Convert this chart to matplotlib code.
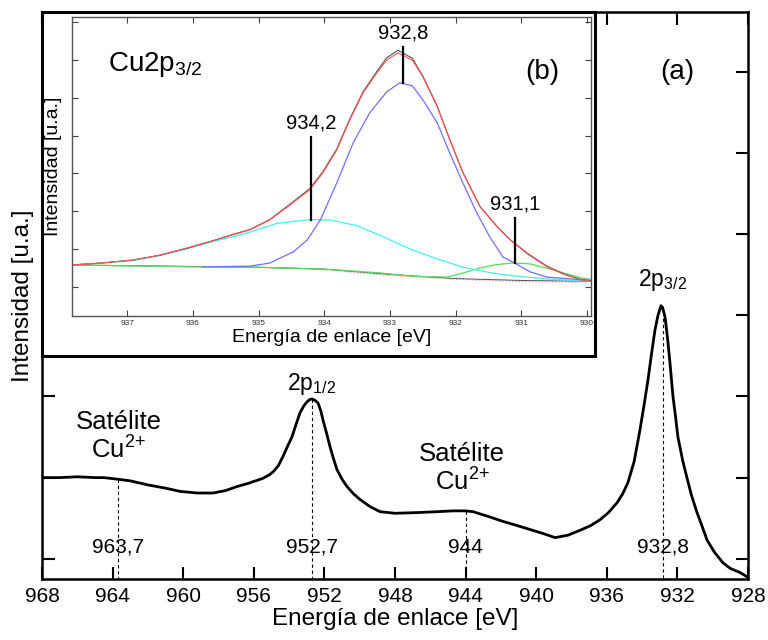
import matplotlib.pyplot as plt

plt.rcParams['font.family'] = ['Liberation Sans', 'DejaVu Sans']
plt.rcParams['mathtext.fontset'] = 'custom'
plt.rcParams['mathtext.rm'] = 'Liberation Sans'
plt.rcParams['mathtext.it'] = 'Liberation Sans:italic'
plt.rcParams['mathtext.default'] = 'regular'

# main spectrum Cu2p (energy eV, intensity a.u.)
energy = [968.0, 967.0, 966.0, 965.0, 964.5, 963.7, 963.0, 962.0, 961.0, 960.18,
          959.2, 958.31, 957.6, 956.95, 956.3, 955.9, 955.5, 955.15, 954.91, 954.6,
          954.35, 954.1, 953.84, 953.6, 953.38, 953.18, 953.0, 952.85, 952.70, 952.52,
          952.36, 952.2, 952.08, 951.88, 951.68, 951.48, 951.29, 951.0, 950.72, 950.35,
          949.98, 949.4, 948.85, 948.0, 946.58, 945.6, 944.71, 944.03, 943.58, 942.7,
          941.88, 941.1, 940.35, 939.6, 938.93, 938.2, 937.52, 936.9, 936.39, 935.9,
          935.42, 935.1, 934.8, 934.45, 934.12, 933.9, 933.67, 933.47, 933.27, 933.1,
          932.93, 932.82, 932.70, 932.55, 932.42, 932.25, 932.1, 931.97, 931.7, 931.46,
          931.2, 930.89, 930.6, 930.32, 929.9, 929.42, 929.0, 928.45, 928.0]
intensity = [1.00, 1.00, 1.01, 1.00, 1.00, 0.98, 0.96, 0.91, 0.87, 0.83,
             0.81, 0.81, 0.84, 0.89, 0.93, 0.96, 0.99, 1.03, 1.07, 1.15,
             1.26, 1.38, 1.50, 1.66, 1.80, 1.88, 1.93, 1.96, 1.97, 1.95,
             1.92, 1.82, 1.71, 1.55, 1.38, 1.23, 1.10, 0.98, 0.89, 0.80,
             0.73, 0.64, 0.58, 0.56, 0.57, 0.58, 0.59, 0.59, 0.58, 0.52,
             0.46, 0.41, 0.36, 0.31, 0.26, 0.29, 0.35, 0.41, 0.48, 0.57,
             0.69, 0.80, 0.94, 1.20, 1.59, 1.88, 2.20, 2.52, 2.82, 3.00,
             3.12, 3.08, 2.98, 2.70, 2.41, 2.00, 1.74, 1.50, 1.21, 1.00,
             0.78, 0.57, 0.40, 0.23, 0.08, -0.05, -0.12, -0.17, -0.23]

peak_pos = [963.7, 952.7, 944.0, 932.8]
peak_top = [0.98, 1.97, 0.59, 3.12]
peak_lbl = ['963,7', '952,7', '944', '932,8']

# inset: Cu2p3/2 deconvolution
e_env = [937.84, 937.4, 936.91, 936.5, 936.09, 935.7, 935.39, 935.13, 934.83, 934.52,
         934.22, 934.02, 933.81, 933.61, 933.41, 933.2, 933.05, 932.88, 932.66, 932.5,
         932.28, 932.09, 931.89, 931.63, 931.37, 931.17, 930.9, 930.61, 930.35, 930.1, 929.94]
i_env = [0.58, 0.63, 0.71, 0.84, 1.03, 1.22, 1.38, 1.51, 1.77, 2.17,
         2.57, 3.02, 3.62, 4.42, 5.13, 5.66, 6.00, 6.19, 6.00, 5.56,
         4.76, 3.89, 3.02, 2.12, 1.59, 1.24, 0.86, 0.53, 0.33, 0.19, 0.15]
i_dat = [0.58, 0.63, 0.71, 0.84, 1.02, 1.22, 1.39, 1.52, 1.78, 2.19,
         2.60, 3.05, 3.65, 4.45, 5.16, 5.70, 6.06, 6.26, 6.05, 5.58,
         4.78, 3.90, 3.03, 2.13, 1.60, 1.25, 0.88, 0.55, 0.34, 0.20, 0.16]

e_blue = [935.85, 935.13, 934.83, 934.47, 934.26, 934.06, 933.81, 933.56, 933.31, 933.05,
          932.85, 932.66, 932.5, 932.28, 932.09, 931.89, 931.68, 931.48, 931.28, 931.1,
          930.87, 930.61, 930.1, 929.94]
i_blue = [0.53, 0.55, 0.63, 0.93, 1.24, 1.77, 2.75, 3.81, 4.60, 5.16,
          5.40, 5.32, 4.95, 4.34, 3.54, 2.75, 1.96, 1.32, 0.79, 0.63,
          0.40, 0.26, 0.19, 0.17]

e_cyan = [937.84, 937.4, 936.91, 936.5, 936.09, 935.7, 935.39, 935.13, 934.72, 934.22,
          933.92, 933.5, 933.11, 932.69, 932.28, 931.89, 931.48, 931.17, 930.61, 930.1, 929.94]
i_cyan = [0.58, 0.63, 0.70, 0.83, 1.01, 1.20, 1.33, 1.45, 1.68, 1.78,
          1.77, 1.62, 1.33, 1.00, 0.74, 0.52, 0.38, 0.30, 0.21, 0.16, 0.15]

e_green = [937.84, 936.0, 935.0, 934.0, 933.15, 932.65, 932.13, 931.9, 931.63, 931.38,
           931.13, 930.87, 930.52, 930.1, 929.94]
i_green = [0.58, 0.53, 0.52, 0.47, 0.37, 0.28, 0.26, 0.36, 0.50, 0.59,
           0.63, 0.61, 0.45, 0.24, 0.20]

e_bg = [937.84, 935.0, 934.0, 933.0, 932.0, 931.0, 930.0]
i_bg = [0.58, 0.52, 0.47, 0.33, 0.22, 0.17, 0.15]
i_bg2 = [0.57, 0.51, 0.45, 0.30, 0.20, 0.14, 0.12]

ins_pos = [934.2, 932.8, 931.1]
ins_top = [3.97, 6.35, 1.83]
ins_bot = [1.78, 5.40, 0.63]
ins_lbl = ['934,2', '932,8', '931,1']

W, H = 768, 640
fig = plt.figure(figsize=(W / 100, H / 100), dpi=100)


def px_axes(x0, y0, x1, y1):
    return [x0 / W, 1 - y1 / H, (x1 - x0) / W, (y1 - y0) / H]


ax = fig.add_axes(px_axes(42, 12, 748, 579))
ax.plot(energy, intensity, color='black', lw=2.0)
ax.set_xlim(968, 928)
ax.set_ylim(-0.25, 6.74)
ax.set_xticks(range(968, 927, -4))
ax.set_yticks(range(0, 7))
ax.set_yticklabels([])
ax.tick_params(direction='in', length=9, width=1.5, top=True, right=True,
               labelsize=15, pad=6)
for s in ax.spines.values():
    s.set_linewidth(1.8)
ax.set_xlabel('Energía de enlace [eV]', fontsize=17.5, labelpad=1)
ax.set_ylabel('Intensidad [u.a.]', fontsize=17.5, labelpad=0)

for p, t, l in zip(peak_pos, peak_top, peak_lbl):
    ax.plot([p, p], [t, -0.25], color='black', lw=0.8, ls=(0, (3, 2.5)))
    ax.text(p, 0.14, l, fontsize=15, ha='center', va='center')

ax.text(952.75, 2.08, r'2p$_{1/2}$', fontsize=16.5, ha='center', va='baseline')
ax.text(932.85, 3.36, r'2p$_{3/2}$', fontsize=16.5, ha='center', va='baseline')
ax.text(963.65, 1.60, 'Satélite', fontsize=18.5, ha='center', va='baseline')
ax.text(963.65, 1.23, r'Cu$^{2{+}}$', fontsize=18.5, ha='center', va='baseline')
ax.text(944.2, 1.21, 'Satélite', fontsize=18.5, ha='center', va='baseline')
ax.text(944.2, 0.84, r'Cu$^{2{+}}$', fontsize=18.5, ha='center', va='baseline')
ax.text(932.0, 6.0, '(a)', fontsize=20, ha='center', va='center')

# white frame behind the inset
frame = fig.add_axes(px_axes(42, 12, 595, 356))
frame.set_xticks([])
frame.set_yticks([])
for s in frame.spines.values():
    s.set_linewidth(2.2)

ins = fig.add_axes(px_axes(72, 17, 591, 316))
ins.plot(e_bg, i_bg2, color='#ff9a9a', lw=0.9, ls=':')
ins.plot(e_bg, i_bg, color='#555555', lw=0.7)
ins.plot(e_green, i_green, color='#55dd55', lw=0.9)
ins.plot(e_cyan, i_cyan, color='#40f0f0', lw=0.9)
ins.plot(e_blue, i_blue, color='#7070ff', lw=0.9)
ins.plot(e_env, i_dat, color='#555555', lw=0.8)
ins.plot(e_env, i_env, color='#ff5555', lw=0.8)
ins.set_xlim(937.84, 929.94)
ins.set_ylim(-0.77, 7.14)
ins.set_xticks(range(937, 929, -1))
ins.set_yticks(range(0, 8))
ins.set_yticklabels([])
ins.tick_params(direction='in', length=4, width=0.8, top=True, right=True,
                labelsize=6, labelcolor='#333333', color='#444444', pad=3)
for s in ins.spines.values():
    s.set_linewidth(1.0)
    s.set_color('#555555')
ins.set_xlabel('Energía de enlace [eV]', fontsize=14, labelpad=1)
ins.set_ylabel('Intensidad [u.a.]', fontsize=14, labelpad=4)

for p, t, b, l in zip(ins_pos, ins_top, ins_bot, ins_lbl):
    ins.plot([p, p], [b, t], color='black', lw=1.6)
    ins.text(p, t + 0.12, l, fontsize=14.5, ha='center', va='bottom')

ins.text(937.29, 5.71, r'Cu2p$_{3/2}$', fontsize=20, ha='left', va='baseline')
ins.text(930.68, 5.69, '(b)', fontsize=20, ha='center', va='center')

fig.savefig('out.png', dpi=100)
